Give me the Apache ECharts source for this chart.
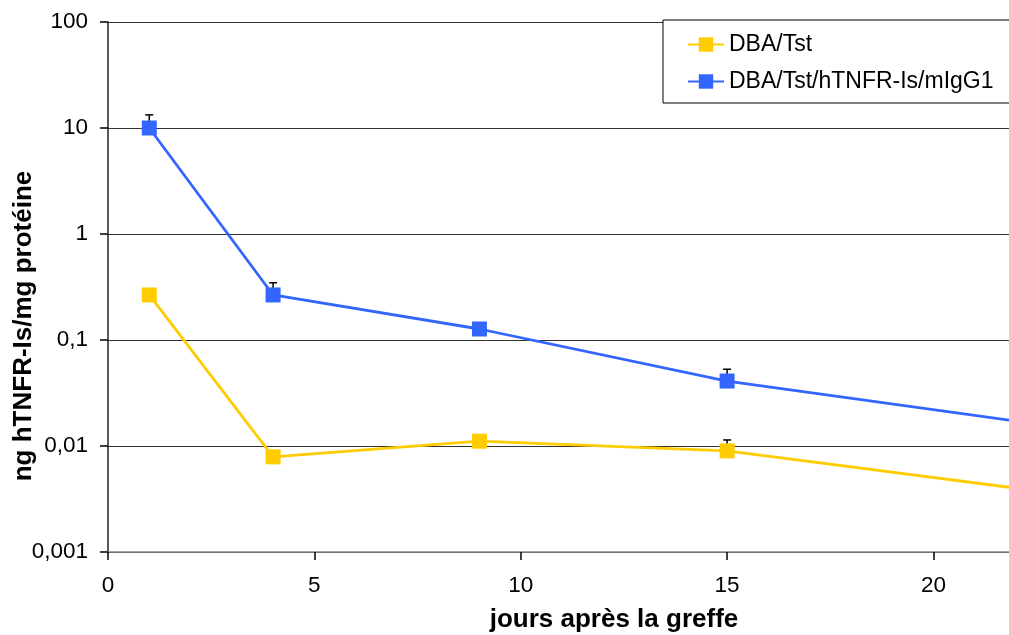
<!DOCTYPE html>
<html>
<head>
<meta charset="utf-8">
<title>hTNFR-Is</title>
<script src="https://cdn.jsdelivr.net/npm/echarts@6/dist/echarts.min.js"></script>
<style>
  html, body { margin: 0; padding: 0; background: #fff; }
  #chart { width: 1009px; height: 635px; }
</style>
</head>
<body>
<div id="chart"></div>
<script>
// jours après la greffe
var days = [1, 4, 9, 15, 22];
// DBA/Tst
var dbaTst = [0.266, 0.0079, 0.0111, 0.0090, 0.0040];
// DBA/Tst/hTNFR-Is/mIgG1
var dbaHtnfr = [10, 0.266, 0.127, 0.041, 0.0172];
// upper error bars : [day, mean, top]
var errDbaTst = [[15, 0.0090, 0.0114]];
var errDbaHtnfr = [[1, 10, 13.3], [4, 0.266, 0.347], [15, 0.041, 0.053]];
var yTickLabels = { '100': '100', '10': '10', '1': '1', '0.1': '0,1', '0.01': '0,01', '0.001': '0,001' };

var names = ['DBA/Tst', 'DBA/Tst/hTNFR-Is/mIgG1'];
var colors = ['#FFCC00', '#3366FF'];
var font = 'Liberation Sans, Arial, sans-serif';

function pairs(xs, ys) {
  return xs.map(function (x, i) { return [x, ys[i]]; });
}

function errorBars(data) {
  return {
    type: 'custom',
    z: 1,
    silent: true,
    renderItem: function (params, api) {
      var base = api.coord([api.value(0), api.value(1)]);
      var top = api.coord([api.value(0), api.value(2)]);
      return {
        type: 'group',
        children: [
          { type: 'line', shape: { x1: base[0], y1: base[1], x2: top[0], y2: top[1] },
            style: { stroke: '#000', lineWidth: 1.5 } },
          { type: 'line', shape: { x1: top[0] - 4, y1: top[1], x2: top[0] + 4, y2: top[1] },
            style: { stroke: '#000', lineWidth: 1.5 } }
        ]
      };
    },
    encode: { x: 0, y: [1, 2] },
    data: data
  };
}

function lineSeries(idx, ys) {
  return {
    name: names[idx],
    type: 'line',
    z: 3,
    data: pairs(days, ys),
    symbol: 'rect',
    symbolSize: function (v) { return v[0] > 21 ? 0 : 15; },
    lineStyle: { color: colors[idx], width: 2.8 },
    itemStyle: { color: colors[idx] },
    emphasis: { disabled: true },
    animation: false
  };
}

var chart = echarts.init(document.getElementById('chart'));
chart.setOption({
  animation: false,
  grid: { left: 108, top: 22, right: -7, bottom: 83, containLabel: false, outerBoundsMode: 'none' },
  legend: {
    orient: 'vertical',
    left: 663,
    top: 20,
    data: names,
    backgroundColor: '#fff',
    borderColor: '#000',
    borderWidth: 1,
    padding: [13, 40, 10, 24],
    itemGap: 14,
    itemWidth: 36,
    itemHeight: 18,
    textStyle: { fontFamily: font, fontSize: 23, color: '#000' }
  },
  xAxis: {
    type: 'value',
    min: 0,
    max: 22,
    interval: 5,
    name: 'jours après la greffe',
    nameLocation: 'middle',
    nameGap: 55,
    nameMoveOverlap: false,
    nameTextStyle: { fontFamily: font, fontSize: 26, fontWeight: 'bold', color: '#000',
      padding: [0, 0, 0, 104] },
    axisLine: { onZero: false, lineStyle: { color: '#888', width: 1.5 } },
    axisTick: { show: true, inside: false, length: 8, lineStyle: { color: '#000', width: 1.5 } },
    axisLabel: { fontFamily: font, fontSize: 22.5, color: '#000', margin: 22,
      formatter: function (v) { return v <= 20 ? String(v) : ''; } },
    splitLine: { show: false }
  },
  yAxis: {
    type: 'log',
    logBase: 10,
    min: 0.001,
    max: 100,
    name: 'ng hTNFR-Is/mg protéine',
    nameLocation: 'middle',
    nameGap: 71,
    nameMoveOverlap: false,
    nameTextStyle: { fontFamily: font, fontSize: 26, fontWeight: 'bold', color: '#000',
      padding: [0, 78, 0, 0] },
    axisLine: { show: true, lineStyle: { color: '#222', width: 1.5 } },
    axisTick: { show: true, inside: false, length: 8, lineStyle: { color: '#000', width: 1.5 } },
    axisLabel: { fontFamily: font, fontSize: 22.5, color: '#000', margin: 20,
      formatter: function (v) {
        var k = String(Number(v.toPrecision(3)));
        return yTickLabels[k] !== undefined ? yTickLabels[k] : '';
      } },
    splitLine: { show: true, lineStyle: { color: '#333', width: 1.2 } }
  },
  series: [
    errorBars(errDbaTst),
    errorBars(errDbaHtnfr),
    lineSeries(0, dbaTst),
    lineSeries(1, dbaHtnfr)
  ]
});
</script>
</body>
</html>
